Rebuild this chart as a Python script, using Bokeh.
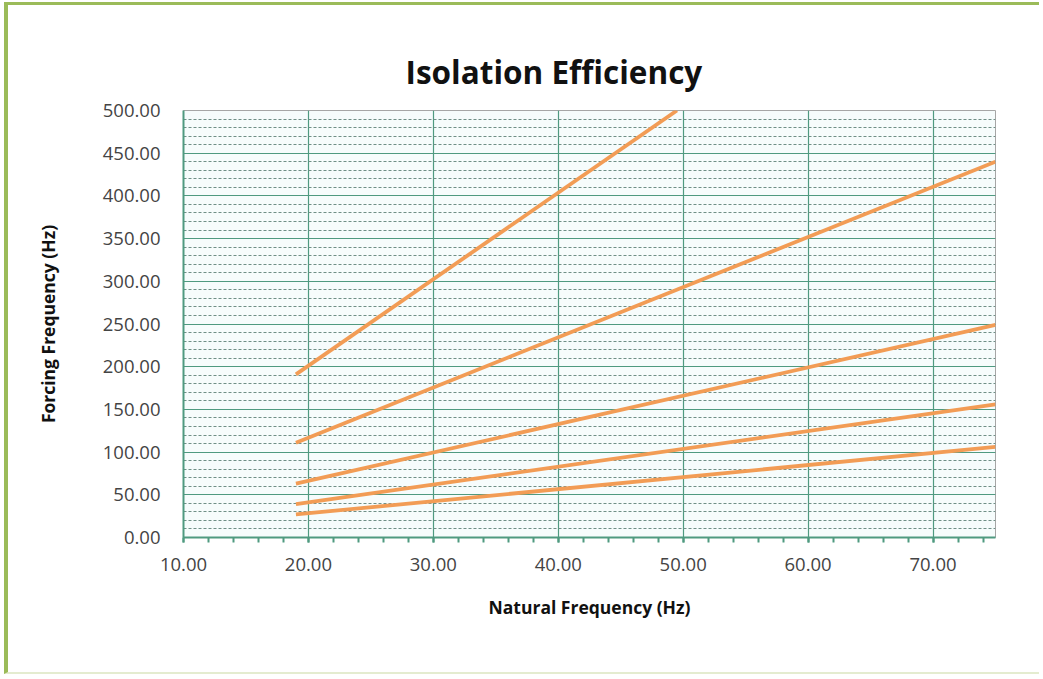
from bokeh.plotting import figure
from bokeh.models import Range1d, SingleIntervalTicker, NumeralTickFormatter
from bokeh.embed import file_html
from bokeh.resources import INLINE

# Data (natural frequency vs forcing frequency)
series_names = ["0%", "70%", "90%", "97%", "99%"]
natural_freq = [[19, 75], [19, 75], [19, 75], [19, 75], [19, 49.5]]
forcing_freq = [[27, 106], [39, 156], [63, 249], [111, 440], [191, 500]]

x_axis_label = "Natural Frequency (Hz)"
y_axis_label = "Forcing Frequency (Hz)"

W, H = 1035, 672
p = figure(width=W, height=H, output_backend="svg", toolbar_location=None,
           x_range=Range1d(10, 75), y_range=Range1d(0, 500),
           min_border_left=175, min_border_right=48,
           min_border_top=105, min_border_bottom=140)
p.styles = {"border-left": "4px solid #9bbb59", "border-top": "3px solid #9bbb59",
            "border-bottom": "2px solid #e4ecd0",
            "margin-left": "4px", "margin-top": "2px"}

p.title.text = "Isolation Efficiency"
p.title.align = "left"
p.title.offset = 222
p.title.text_font = "Open Sans"
p.title.text_font_style = "bold"
p.title.text_font_size = "31.5px"
p.title.text_color = "#111111"
p.title.standoff = 35

p.background_fill_color = "#f6fcfc"
p.border_fill_color = "white"
p.outline_line_color = "#a6a6a6"
p.outline_line_width = 1

green = "#4f9a80"
p.xaxis.ticker = SingleIntervalTicker(interval=10, num_minor_ticks=5)
p.yaxis.ticker = SingleIntervalTicker(interval=50, num_minor_ticks=5)
for ax in (p.xaxis, p.yaxis):
    ax.formatter = NumeralTickFormatter(format="0.00")
    ax.axis_line_color = green
    ax.axis_line_width = 2
    ax.major_label_text_font = "Open Sans"
    ax.major_label_text_font_size = "18.5px"
    ax.major_label_text_color = "#444444"
    ax.axis_label_text_font = "Open Sans"
    ax.axis_label_text_font_style = "bold"
    ax.axis_label_text_font_size = "17.5px"
    ax.axis_label_text_color = "#111111"

p.xaxis.axis_label = x_axis_label
p.xaxis.major_tick_line_color = green
p.xaxis.major_tick_line_width = 2
p.xaxis.minor_tick_line_color = green
p.xaxis.minor_tick_line_width = 2
p.xaxis.major_tick_out = 5
p.xaxis.major_tick_in = 0
p.xaxis.minor_tick_out = 5
p.xaxis.minor_tick_in = 0
p.xaxis.major_label_standoff = 15
p.xaxis.axis_label_standoff = 21

p.yaxis.axis_label = y_axis_label
p.yaxis.major_tick_line_color = None
p.yaxis.minor_tick_line_color = None
p.yaxis.major_label_standoff = 17
p.yaxis.axis_label_standoff = 40

p.xgrid.grid_line_color = green
p.xgrid.grid_line_width = 1.2
p.ygrid.grid_line_color = green
p.ygrid.grid_line_width = 1.2
p.ygrid.minor_grid_line_color = "#6f8f86"
p.ygrid.minor_grid_line_dash = "3 2"
p.ygrid.minor_grid_line_width = 1

for xs, ys in zip(natural_freq, forcing_freq):
    p.line(xs, ys, line_color="#f29c55", line_width=3.8)

open("out.html", "w").write(file_html(p, INLINE))
